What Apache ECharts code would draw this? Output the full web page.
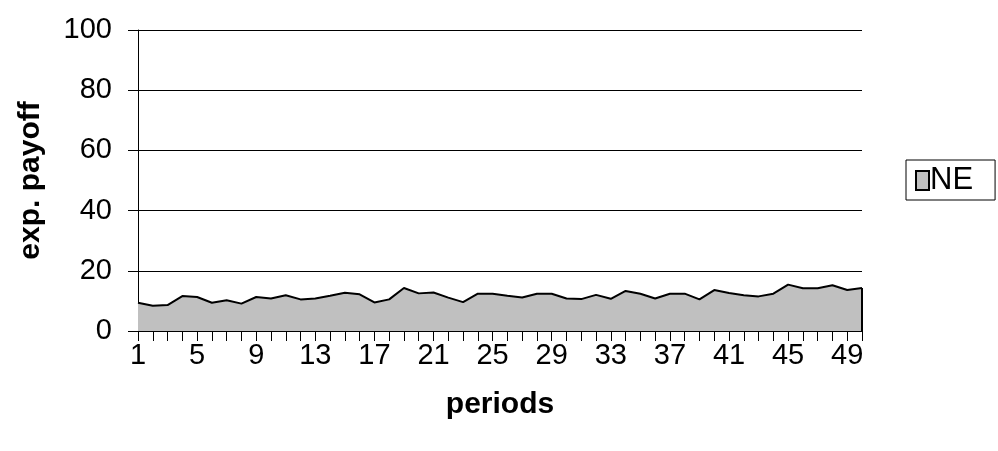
<!DOCTYPE html>
<html><head><meta charset="utf-8">
<script src="https://cdn.jsdelivr.net/npm/echarts@6/dist/echarts.min.js"></script>
<style>html,body{margin:0;padding:0;background:#fff}#c{width:998px;height:451px}</style>
</head><body><div id="c"></div>
<script>
const periods = Array.from({length:50},(_,i)=>String(i+1));
const neValues = [9.4,8.4,8.6,11.6,11.3,9.4,10.2,9.1,11.3,10.8,
  11.9,10.5,10.8,11.7,12.7,12.2,9.5,10.5,14.3,12.5,
  12.8,11.1,9.6,12.4,12.4,11.7,11.1,12.4,12.4,10.8,
  10.6,12.0,10.7,13.3,12.4,10.8,12.4,12.4,10.5,13.6,
  12.6,11.9,11.5,12.4,15.4,14.2,14.2,15.2,13.6,14.3];
const seriesName = 'NE';
const yTicks = {min:0, max:100, interval:20};
const font = 'Liberation Sans, Arial, sans-serif';
const chart = echarts.init(document.getElementById('c'));
chart.setOption({
  animation:false,
  textStyle:{fontFamily:font},
  grid:{left:138, right:136, top:30, bottom:120, containLabel:false, outerBoundsMode:'none'},
  legend:{
    data:[{name:seriesName, icon:'rect'}],
    left:906, top:160, orient:'vertical',
    itemWidth:13, itemHeight:19, itemGap:0,
    borderColor:'#000', borderWidth:1, padding:[5,22,4,9],
    textStyle:{fontSize:31, lineHeight:20, color:'#000', fontFamily:font, padding:[0,0,0,-4]}
  },
  xAxis:{
    type:'category', data:periods, boundaryGap:false,
    name:'periods', nameLocation:'middle', nameGap:59, nameMoveOverlap:false,
    nameTextStyle:{fontSize:30, fontWeight:'bold', color:'#000'},
    axisLine:{lineStyle:{color:'#000', width:1}},
    axisTick:{show:true, interval:0, length:10, inside:false, lineStyle:{color:'#000'}},
    axisLabel:{interval:3, fontSize:29, color:'#000', margin:10},
    splitLine:{show:false}
  },
  yAxis:{
    type:'value', min:yTicks.min, max:yTicks.max, interval:yTicks.interval,
    name:'exp. payoff', nameLocation:'middle', nameGap:92, nameRotate:90, nameMoveOverlap:false,
    nameTextStyle:{fontSize:30, fontWeight:'bold', color:'#000'},
    axisLine:{show:true, lineStyle:{color:'#000'}},
    axisTick:{show:true, length:10, lineStyle:{color:'#000'}},
    axisLabel:{fontSize:29, color:'#000', margin:26},
    splitLine:{lineStyle:{color:'#000', width:1}}
  },
  series:[{
    name:seriesName, type:'line', data:neValues, symbol:'none',
    lineStyle:{color:'#000', width:2},
    itemStyle:{color:'#c0c0c0', borderColor:'#000', borderWidth:1},
    areaStyle:{color:'#c0c0c0', opacity:1},
    markLine:{symbol:'none', silent:true, label:{show:false},
      lineStyle:{color:'#000', width:2, type:'solid'},
      data:[[{coord:[periods[periods.length-1], 0]},{coord:[periods[periods.length-1], neValues[neValues.length-1]]}]]}
  }]
});
</script></body></html>
